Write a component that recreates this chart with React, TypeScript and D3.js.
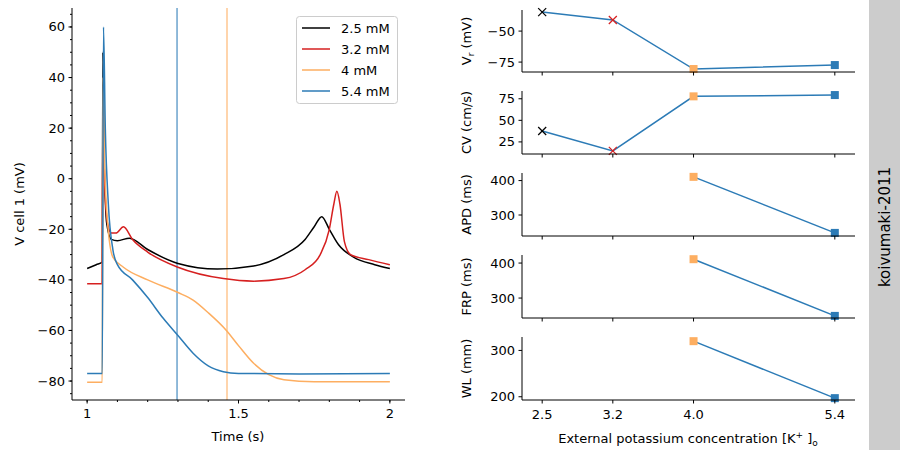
import React from "react";
import * as d3 from "d3";

const seriesNames = ["2.5 mM", "3.2 mM", "4 mM", "5.4 mM"];
const seriesColors = ["#000000", "#d62020", "#fdae61", "#2c7bb6"];
const trace25: [number, number][] = [[1,-35.5],[1.03,-34],[1.05,-33],[1.052,50],[1.056,10],[1.065,-18],[1.08,-24],[1.1,-24.5],[1.14,-23.5],[1.2,-28],[1.3,-33.5],[1.43,-35.7],[1.55,-34.5],[1.65,-30],[1.72,-24],[1.75,-19],[1.775,-15],[1.8,-20],[1.83,-26],[1.88,-31],[1.95,-34],[2,-35.5]];
const trace32: [number, number][] = [[1,-41.5],[1.049,-41.5],[1.052,25],[1.058,-2],[1.068,-18],[1.08,-21.5],[1.095,-21.5],[1.12,-19],[1.15,-24],[1.2,-29],[1.3,-35],[1.45,-39.5],[1.55,-40.5],[1.65,-39.5],[1.72,-36],[1.77,-30],[1.8,-20],[1.815,-10],[1.825,-5],[1.835,-10],[1.85,-25],[1.87,-30],[1.93,-32],[2,-34]];
const trace40: [number, number][] = [[1,-80.5],[1.05,-80.5],[1.052,40],[1.058,5],[1.068,-18],[1.085,-31],[1.12,-35],[1.2,-40],[1.3,-45],[1.35,-48],[1.4,-53],[1.46,-60],[1.5,-66],[1.55,-73],[1.6,-77.5],[1.65,-79.5],[1.75,-80.3],[2,-80.3]];
const trace54: [number, number][] = [[1,-77],[1.05,-77],[1.054,60],[1.06,20],[1.07,-10],[1.085,-28],[1.1,-34],[1.15,-40],[1.2,-47],[1.25,-55],[1.3,-62],[1.35,-69],[1.4,-74],[1.45,-76.3],[1.5,-77],[1.7,-77.2],[2,-77]];
const traces = [trace25, trace32, trace40, trace54];
const vlineTimes = [1.297, 1.462];
const vlineColors = ["#2c7bb6", "#fdae61"];

const conc = [2.5, 3.2, 4.0, 5.4];
const concLabels = ["2.5", "3.2", "4.0", "5.4"];
const vr = [-34.7, -41, -80.6, -77.4];
const cv = [37.7, 14.6, 77.8, 79.3];
const apd = [null, null, 410.8, 248];
const frp = [null, null, 411, 249];
const wl = [null, null, 320, 197];

const FONT = "DejaVu Sans, sans-serif";

export default function App() {
  const x = d3.scaleLinear().domain([0.95, 2.05]).range([72, 405]);
  const y = d3.scaleLinear().domain([-87.5, 67.5]).range([400, 8]);
  const line = d3.line<[number, number]>().x(d => x(d[0])).y(d => y(d[1])).curve(d3.curveMonotoneX);
  const xr = d3.scaleLinear().domain([2.3, 5.6]).range([522, 855]);

  const panels = [
    { label: "Vr", data: vr, dom: [-83, -33], top: 10, bot: 72, ticks: [-75, -50] },
    { label: "CV (cm/s)", data: cv, dom: [11, 84], top: 91, bot: 154, ticks: [25, 50, 75] },
    { label: "APD (ms)", data: apd, dom: [239, 422], top: 173, bot: 236, ticks: [300, 400] },
    { label: "FRP (ms)", data: frp, dom: [243, 423], top: 255, bot: 318, ticks: [300, 400] },
    { label: "WL (mm)", data: wl, dom: [193, 329], top: 337, bot: 400, ticks: [200, 300] },
  ];
  const xMajor = [1, 1.5, 2];
  const xMinor = d3.range(1, 2.0001, 0.1);
  const yMajor = d3.range(-80, 61, 20);
  const yMinor = d3.range(-85, 66, 5);

  return (
    <svg width={900} height={450} style={{ position: "absolute", left: 0, top: 0, fontFamily: FONT }}>
      <rect width={900} height={450} fill="#fff" />
      {vlineTimes.map((t, i) => (
        <line key={i} x1={x(t)} x2={x(t)} y1={8} y2={400} stroke={vlineColors[i]} strokeOpacity={0.7} strokeWidth={1.5} />
      ))}
      {traces.map((tr, i) => (
        <path key={i} d={line(tr) || ""} fill="none" stroke={seriesColors[i]} strokeWidth={1.5} />
      ))}
      <line x1={72} x2={72} y1={8} y2={400} stroke="#000" />
      <line x1={72} x2={405} y1={400} y2={400} stroke="#000" />
      {xMinor.map((t, i) => <line key={i} x1={x(t)} x2={x(t)} y1={400} y2={402} stroke="#000" />)}
      {xMajor.map((t, i) => (
        <g key={i}>
          <line x1={x(t)} x2={x(t)} y1={400} y2={403.5} stroke="#000" />
          <text x={x(t)} y={418} fontSize={13} textAnchor="middle">{t}</text>
        </g>
      ))}
      {yMinor.map((v, i) => <line key={i} x1={70} x2={72} y1={y(v)} y2={y(v)} stroke="#000" />)}
      {yMajor.map((v, i) => (
        <g key={i}>
          <line x1={68.5} x2={72} y1={y(v)} y2={y(v)} stroke="#000" />
          <text x={65} y={y(v) + 4.5} fontSize={13} textAnchor="end">{v < 0 ? "\u2212" + -v : v}</text>
        </g>
      ))}
      <text x={238} y={441} fontSize={13} textAnchor="middle">Time (s)</text>
      <text transform="translate(24,204) rotate(-90)" fontSize={13} textAnchor="middle">V cell 1 (mV)</text>
      <rect x={296.5} y={16.5} width={101} height={87} rx={3} fill="#fff" fillOpacity={0.8} stroke="#ccc" />
      {seriesNames.map((n, i) => (
        <g key={i}>
          <line x1={302} x2={330} y1={28 + i * 21} y2={28 + i * 21} stroke={seriesColors[i]} strokeWidth={1.5} />
          <text x={341} y={32.5 + i * 21} fontSize={13}>{n}</text>
        </g>
      ))}

      {panels.map((p, pi) => {
        const ys = d3.scaleLinear().domain(p.dom).range([p.bot, p.top]);
        const pts = conc.map((c, i) => ({ c, v: p.data[i], i })).filter(d => d.v !== null) as { c: number; v: number; i: number }[];
        const pl = d3.line<{ c: number; v: number }>().x(d => xr(d.c)).y(d => ys(d.v));
        return (
          <g key={pi}>
            <path d={pl(pts) || ""} fill="none" stroke="#2c7bb6" strokeWidth={1.5} />
            {pts.map(d => {
              const px = xr(d.c), py = ys(d.v);
              if (d.i < 2) {
                const col = seriesColors[d.i];
                return (
                  <g key={d.i} stroke={col} strokeWidth={1.3}>
                    <line x1={px - 4} x2={px + 4} y1={py - 4} y2={py + 4} />
                    <line x1={px - 4} x2={px + 4} y1={py + 4} y2={py - 4} />
                  </g>
                );
              }
              return <rect key={d.i} x={px - 4} y={py - 4} width={8} height={8} fill={seriesColors[d.i]} />;
            })}
            <line x1={522} x2={522} y1={p.top} y2={p.bot} stroke="#000" />
            <line x1={522} x2={855} y1={p.bot} y2={p.bot} stroke="#000" />
            {conc.map((c, i) => <line key={i} x1={xr(c)} x2={xr(c)} y1={p.bot} y2={p.bot + 3.5} stroke="#000" />)}
            {p.ticks.map((t, i) => (
              <g key={i}>
                <line x1={518.5} x2={522} y1={ys(t)} y2={ys(t)} stroke="#000" />
                <text x={515} y={ys(t) + 4.5} fontSize={13} textAnchor="end">{t < 0 ? "\u2212" + -t : t}</text>
              </g>
            ))}
            {pi === 0 ? (
              <text transform={`translate(471,${(p.top + p.bot) / 2}) rotate(-90)`} fontSize={13} textAnchor="middle">
                V<tspan fontSize={9} dy={3}>r</tspan><tspan dy={-3}> (mV)</tspan>
              </text>
            ) : (
              <text transform={`translate(471,${(p.top + p.bot) / 2}) rotate(-90)`} fontSize={13} textAnchor="middle">{p.label}</text>
            )}
          </g>
        );
      })}
      {conc.map((c, i) => (
        <text key={i} x={xr(c)} y={419} fontSize={13} textAnchor="middle">{concLabels[i]}</text>
      ))}
      <text x={688} y={443} fontSize={13} textAnchor="middle">
        External potassium concentration [K<tspan fontSize={9} dy={-5}>+</tspan><tspan dy={5}> ]</tspan><tspan fontSize={9} dy={3}>o</tspan>
      </text>
      <rect x={869} y={0} width={31} height={450} fill="#cccccc" />
      <text transform="translate(890,227) rotate(-90)" fontSize={15} textAnchor="middle">koivumaki-2011</text>
    </svg>
  );
}
